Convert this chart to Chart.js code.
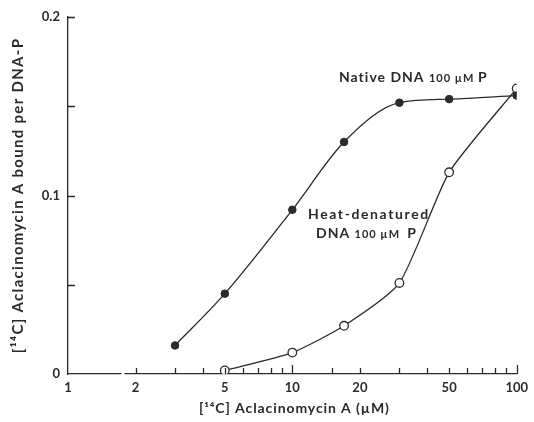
<!DOCTYPE html>
<html>
<head>
<meta charset="utf-8">
<script src="https://cdn.jsdelivr.net/npm/chart.js@4"></script>
<style>
  html, body { margin: 0; padding: 0; background: #fff; }
  #wrap { width: 534px; height: 422px; }
</style>
</head>
<body>
<div id="wrap"><canvas id="myChart"></canvas></div>
<script>
// aclacinomycin A concentration (uM) and bound drug per DNA-P
const nativeConc = [3, 5, 10, 17, 30, 50, 100];
const nativeBound = [0.016, 0.045, 0.092, 0.130, 0.152, 0.154, 0.156];
const heatConc = [5, 10, 17, 30, 50, 100];
const heatBound = [0.002, 0.012, 0.027, 0.051, 0.113, 0.160];

const xLabels = [1, 2, 5, 10, 20, 50, 100];
const yLabels = [0, 0.1, 0.2];

const xTitle = '[\u00b9\u2074C] Aclacinomycin A (\u00b5M)';
const yTitle = '[\u00b9\u2074C] Aclacinomycin A bound per DNA-P';

const ink = '#2a2a2a';
const fontFam = 'Lato, "DejaVu Sans", sans-serif';

function pts(xs, ys) {
    return xs.map(function (v, i) { return { x: v, y: ys[i] }; });
}

// tick marks point into the plot, like the hand drawn axes
const inwardTicks = {
    id: 'inwardTicks',
    afterDraw(chart) {
        const ctx = chart.ctx;
        const x = chart.scales.x, y = chart.scales.y;
        ctx.save();
        ctx.strokeStyle = ink;
        ctx.lineWidth = 1.3;
        ctx.beginPath();
        x.ticks.forEach(function (t) {
            if (t.value <= 1) return;
            const px = Math.round(x.getPixelForValue(t.value)) + 0.5;
            const len = (t.value === 10 || t.value === 100) ? 9 : 6;
            ctx.moveTo(px, y.bottom);
            ctx.lineTo(px, y.bottom - len);
        });
        y.ticks.forEach(function (t) {
            if (t.value === 0) return;
            const py = Math.round(y.getPixelForValue(t.value)) + 0.5;
            ctx.moveTo(x.left, py);
            ctx.lineTo(x.left + 7, py);
        });
        ctx.stroke();
        // small break in the x axis between 1 and 2
        ctx.fillStyle = '#fff';
        ctx.fillRect(x.getPixelForValue(1.73), y.bottom - 3, 3, 6);
        ctx.restore();
    }
};

// axis titles with wide letter spacing
const axisTitles = {
    id: 'axisTitles',
    afterDraw(chart) {
        const ctx = chart.ctx;
        const a = chart.chartArea;
        ctx.save();
        ctx.fillStyle = ink;
        ctx.textAlign = 'center';
        ctx.textBaseline = 'middle';
        ctx.font = 'bold 14px ' + fontFam;
        ctx.letterSpacing = '0.9px';
        ctx.fillText(xTitle, (a.left + a.right) / 2 + 2, 408);
        ctx.translate(18, (a.top + a.bottom) / 2);
        ctx.rotate(-Math.PI / 2);
        ctx.font = 'bold 15px ' + fontFam;
        ctx.letterSpacing = '1.3px';
        ctx.fillText(yTitle, 0, 0);
        ctx.restore();
    }
};

function drawRuns(ctx, left, base, runs) {
    let cx = left;
    runs.forEach(function (r) {
        ctx.font = r.f;
        ctx.fillText(r.t, cx, base);
        cx += ctx.measureText(r.t).width;
    });
}

// curve labels
const curveNotes = {
    id: 'curveNotes',
    afterDatasetsDraw(chart) {
        const ctx = chart.ctx;
        ctx.save();
        ctx.fillStyle = ink;
        ctx.textBaseline = 'alphabetic';
        ctx.letterSpacing = '1px';
        const big = 'bold 14px ' + fontFam;
        const small = 'bold 11px ' + fontFam;
        drawRuns(ctx, 339, 82, [
            { t: 'Native DNA ', f: big },
            { t: '100 \u00b5M ', f: small },
            { t: 'P', f: big }
        ]);
        ctx.letterSpacing = '1.6px';
        drawRuns(ctx, 308, 219, [{ t: 'Heat-denatured', f: big }]);
        ctx.letterSpacing = '1px';
        drawRuns(ctx, 316, 238, [
            { t: 'DNA ', f: big },
            { t: '100 \u00b5M  ', f: small },
            { t: 'P', f: big }
        ]);
        ctx.restore();
    }
};

const data = {
    datasets: [{
        label: 'Native DNA 100 \u00b5M P',
        data: pts(nativeConc, nativeBound),
        borderColor: ink,
        borderWidth: 1.3,
        backgroundColor: ink,
        pointRadius: 3.8,
        pointBorderWidth: 1,
        cubicInterpolationMode: 'monotone'
    }, {
        label: 'Heat-denatured DNA 100 \u00b5M P',
        data: pts(heatConc, heatBound),
        borderColor: ink,
        borderWidth: 1.3,
        backgroundColor: '#fff',
        pointBackgroundColor: '#fff',
        pointRadius: 4.3,
        pointBorderWidth: 1.3,
        tension: 0.2
    }]
};

const config = {
    type: 'line',
    data: data,
    options: {
        responsive: true,
        maintainAspectRatio: false,
        animation: false,
        layout: { padding: { top: 17, right: 17, left: 0, bottom: 0 } },
        plugins: { legend: { display: false }, tooltip: { enabled: false } },
        scales: {
            x: {
                type: 'logarithmic',
                min: 1,
                max: 100,
                grid: { display: false, drawTicks: false },
                border: { display: true, color: ink, width: 1.3 },
                ticks: {
                    autoSkip: false,
                    maxRotation: 0,
                    padding: 6,
                    color: ink,
                    font: { family: fontFam, size: 13, weight: 'bold' },
                    callback: function (v) {
                        return xLabels.indexOf(v) >= 0 ? String(v) : '';
                    }
                },
                afterFit: function (s) { s.height = 48; }
            },
            y: {
                min: 0,
                max: 0.2,
                grid: { display: false, drawTicks: false },
                border: { display: true, color: ink, width: 1.3 },
                ticks: {
                    stepSize: 0.05,
                    padding: 8,
                    color: ink,
                    font: { family: fontFam, size: 13, weight: 'bold' },
                    callback: function (v) {
                        for (let i = 0; i < yLabels.length; i++) {
                            if (Math.abs(v - yLabels[i]) < 1e-9) return String(yLabels[i]);
                        }
                        return '';
                    }
                },
                afterFit: function (s) { s.width = 68; }
            }
        }
    },
    plugins: [inwardTicks, axisTitles, curveNotes]
};

const myChart = new Chart(document.getElementById('myChart'), config);
</script>
</body>
</html>
